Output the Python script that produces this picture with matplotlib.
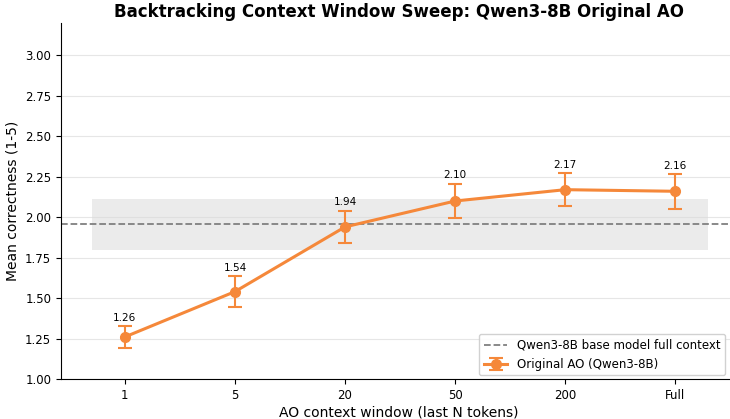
import matplotlib.pyplot as plt
import numpy as np

# AO context window sweep
windows = ['1', '5', '20', '50', '200', 'Full']
means = [1.26, 1.54, 1.94, 2.10, 2.17, 2.16]
errs = [0.068, 0.094, 0.10, 0.107, 0.10, 0.108]
base_mean = 1.955
base_err = 0.16

orange = '#F5883A'
x = np.arange(len(windows))

fig = plt.figure(figsize=(7.3, 4.19), dpi=100)
ax = fig.add_axes([61 / 730, 1 - 379 / 419, (737 - 61) / 730, (379 - 23) / 419])

ax.fill_between([-0.3, 5.3], base_mean - base_err, base_mean + base_err,
                color='#d9d9d9', alpha=0.5, lw=0, zorder=1)
ax.axhline(base_mean, color='gray', ls='--', lw=1.3, zorder=2,
           label='Qwen3-8B base model full context')
ax.errorbar(x, means, yerr=errs, color=orange, marker='o', ms=7, lw=2.2,
            capsize=5, capthick=1.5, elinewidth=1.5, zorder=3,
            label='Original AO (Qwen3-8B)')
for xi, m, e in zip(x, means, errs):
    ax.text(xi, m + e + 0.02, f'{m:.2f}', ha='center', va='bottom', fontsize=7.5)

ax.set_xticks(x)
ax.set_xticklabels(windows)
ax.set_xlim(-0.58, 5.56)
ax.set_ylim(1.0, 3.2)
ax.set_yticks(np.arange(1.0, 3.01, 0.25))
ax.yaxis.set_major_formatter(plt.FormatStrFormatter('%.2f'))
ax.tick_params(labelsize=8.5)
ax.grid(True, axis='y', color='#e6e6e6', lw=0.8, zorder=0)
ax.set_axisbelow(True)
ax.spines['top'].set_visible(False)
ax.spines['right'].set_visible(False)
ax.set_xlabel('AO context window (last N tokens)', fontsize=10, labelpad=3)
ax.set_ylabel('Mean correctness (1-5)', fontsize=10)
ax.set_title('Backtracking Context Window Sweep: Qwen3-8B Original AO',
             fontsize=12, fontweight='bold', pad=4)
ax.legend(loc='lower right', fontsize=8.5, framealpha=0.9,
          bbox_to_anchor=(728 / 737 * 1.0 + 0.0 - 0.0, 0.0), borderaxespad=0.3)

fig.savefig('out.png', dpi=100)
